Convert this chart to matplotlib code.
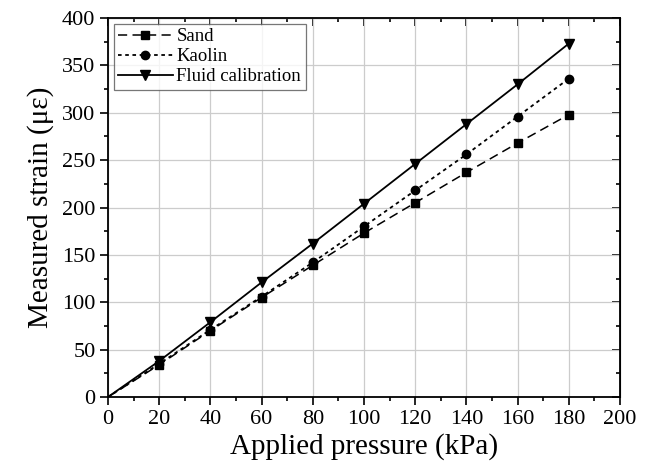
import matplotlib
matplotlib.use("Agg")
import matplotlib.pyplot as plt
from matplotlib.ticker import MultipleLocator

pressure = [0, 20, 40, 60, 80, 100, 120, 140, 160, 180]
sand = [0, 34, 70, 105, 139, 173, 205, 237, 268, 298]
kaolin = [0, 35, 71, 106, 142, 180, 218, 256, 296, 336]
fluid = [0, 38, 79, 121, 162, 204, 246, 288, 330, 373]

plt.rcParams['font.family'] = ['Liberation Serif', 'DejaVu Serif']

fig = plt.figure(figsize=(6.46, 4.73), dpi=100)
ax = fig.add_axes([108/646, 1-397/473, (620-108)/646, (397-18)/473])

ms = 6
ax.plot(pressure, sand, color='black', ls=(0, (6, 3.5)), lw=1.1, marker='s', ms=ms,
        markevery=slice(1, None), label='Sand')
ax.plot(pressure, kaolin, color='black', ls=(0, (2, 2)), lw=1.3, marker='o', ms=ms,
        markevery=slice(1, None), label='Kaolin')
ax.plot(pressure, fluid, color='black', ls='-', lw=1.3, marker='v', ms=ms+0.5,
        markevery=slice(1, None), label='Fluid calibration')

ax.set_xlim(0, 200)
ax.set_ylim(0, 400)
ax.xaxis.set_major_locator(MultipleLocator(20))
ax.xaxis.set_minor_locator(MultipleLocator(10))
ax.yaxis.set_major_locator(MultipleLocator(50))
ax.yaxis.set_minor_locator(MultipleLocator(25))
ax.grid(True, which='major', color='#cccccc', lw=0.9)
ax.set_axisbelow(True)

ax.tick_params(which='both', direction='out', labelsize=16, width=1.2, pad=3)
ax.tick_params(which='major', length=6)
ax.tick_params(which='minor', length=3)
for s in ax.spines.values():
    s.set_linewidth(1.3)

# top/right inward ticks
axt = ax.secondary_xaxis('top')
axt.xaxis.set_major_locator(MultipleLocator(20))
axt.xaxis.set_minor_locator(MultipleLocator(10))
axt.tick_params(which='both', direction='in', labeltop=False, width=1.2)
axt.tick_params(which='major', length=6)
axt.tick_params(which='minor', length=3)
axr = ax.secondary_yaxis('right')
axr.yaxis.set_major_locator(MultipleLocator(50))
axr.yaxis.set_minor_locator(MultipleLocator(25))
axr.tick_params(which='both', direction='in', labelright=False, width=1.2)
axr.tick_params(which='major', length=6)
axr.tick_params(which='minor', length=3)

ax.set_xlabel('Applied pressure (kPa)', fontsize=21, labelpad=3)
ax.set_ylabel('Measured strain (με)', fontsize=21, labelpad=6)

leg = ax.legend(loc='upper left', fontsize=13.5, frameon=True, fancybox=False,
                edgecolor='#555555', handlelength=2.9, borderpad=0.25,
                labelspacing=0.15, handletextpad=0.2, borderaxespad=0.3)
leg.get_frame().set_linewidth(0.9)

fig.savefig('out.png', dpi=100)
